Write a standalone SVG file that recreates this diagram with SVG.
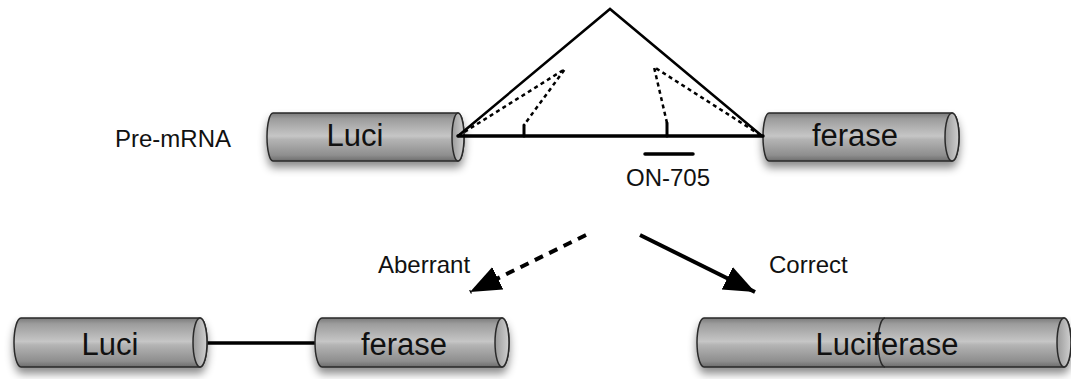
<svg xmlns="http://www.w3.org/2000/svg" width="1071" height="379" viewBox="0 0 1071 379">
  <defs>
    <linearGradient id="tube" x1="0" y1="0" x2="0" y2="1">
      <stop offset="0" stop-color="#7a7a7a"/>
      <stop offset="0.12" stop-color="#9c9c9c"/>
      <stop offset="0.48" stop-color="#c6c6c6"/>
      <stop offset="0.55" stop-color="#b4b4b4"/>
      <stop offset="0.88" stop-color="#8e8e8e"/>
      <stop offset="1" stop-color="#6c6c6c"/>
    </linearGradient>
    <linearGradient id="cap" x1="0" y1="0" x2="1" y2="0">
      <stop offset="0" stop-color="#9a9a9a"/>
      <stop offset="1" stop-color="#d0d0d0"/>
    </linearGradient>
    <filter id="shadow" x="-10%" y="-30%" width="120%" height="170%">
      <feDropShadow dx="0" dy="6" stdDeviation="4.5" flood-color="#000" flood-opacity="0.45"/>
    </filter>
    <marker id="head" markerUnits="userSpaceOnUse" markerWidth="34" markerHeight="28" refX="31" refY="12.5" orient="auto">
      <path d="M0,0 L31,12.5 L0,25 Z" fill="#000"/>
    </marker>
  </defs>
  <style>
    .body { fill: url(#tube); stroke: #2a2a2a; stroke-width: 1.5; }
    .cap { fill: url(#cap); stroke: #2a2a2a; stroke-width: 1.5; }
    .exon { font-family: "Liberation Sans", Arial, sans-serif; font-size: 31px; fill: #111; text-anchor: middle; }
    .lbl { font-family: "Liberation Sans", Arial, sans-serif; font-size: 24px; fill: #111; }
    .solid { stroke: #000; fill: none; stroke-linecap: round; }
    .dot { stroke: #000; fill: none; stroke-width: 2.5; stroke-dasharray: 4 3.5; }
  </style>

  <text class="lbl" x="115" y="147">Pre-mRNA</text>

  <!-- pre-mRNA exon 1 -->
  <g id="exon-luci-top">
    <g filter="url(#shadow)">
      <path class="body" d="M273,113 L458,113 A6,24 0 0 1 458,161 L273,161 A6,24 0 0 1 273,113 Z"/>
    </g>
    <ellipse class="cap" cx="458" cy="137" rx="6" ry="24"/>
    <text class="exon" x="355" y="146">Luci</text>
  </g>

  <!-- pre-mRNA exon 2 -->
  <g id="exon-ferase-top">
    <g filter="url(#shadow)">
      <path class="body" d="M769,113 L952,113 A7,24 0 0 1 952,161 L769,161 A6,24 0 0 1 769,113 Z"/>
    </g>
    <ellipse class="cap" cx="952" cy="137" rx="7" ry="24"/>
    <text class="exon" x="855" y="146">ferase</text>
  </g>

  <!-- intron with splice sites -->
  <g id="intron">
    <line class="solid" x1="458" y1="136" x2="763" y2="136" stroke-width="3.5"/>
    <line class="solid" x1="524" y1="125" x2="524" y2="136" stroke-width="3"/>
    <line class="solid" x1="667" y1="123" x2="667" y2="136" stroke-width="3"/>
  </g>

  <!-- ON-705 oligo -->
  <g id="on705">
    <line x1="645" y1="154" x2="693" y2="154" stroke="#000" stroke-width="3.5" stroke-linecap="round"/>
    <text class="lbl" x="668" y="186" text-anchor="middle">ON-705</text>
  </g>

  <g id="connectors">
    <!-- correct splicing -->
    <polyline class="solid" points="458,136 610,9 762,136" stroke-width="2.5"/>
    <!-- cryptic splicing -->
    <polyline class="dot" points="458,136 565,69 524,125"/>
    <polyline class="dot" points="667,123 654,67 762,136"/>
    <!-- outcome arrows -->
    <line x1="586" y1="235" x2="470" y2="292" stroke="#000" stroke-width="4" stroke-dasharray="9 7" marker-end="url(#head)"/>
    <line x1="640" y1="235" x2="755" y2="292" stroke="#000" stroke-width="4" marker-end="url(#head)"/>
    <!-- retained intron in aberrant product -->
    <line x1="200" y1="343" x2="316" y2="343" stroke="#000" stroke-width="3.5"/>
  </g>

  <text class="lbl" x="378" y="273">Aberrant</text>
  <text class="lbl" x="769" y="273">Correct</text>

  <!-- aberrant product -->
  <g id="aberrant-luci">
    <g filter="url(#shadow)">
      <path class="body" d="M21,318 L200,318 A7,24.5 0 0 1 200,367 L21,367 A7,24.5 0 0 1 21,318 Z"/>
    </g>
    <ellipse class="cap" cx="200" cy="342.5" rx="7" ry="24.5"/>
    <text class="exon" x="110" y="355">Luci</text>
  </g>
  <g id="aberrant-ferase">
    <g filter="url(#shadow)">
      <path class="body" d="M322,318 L502,318 A7,24.5 0 0 1 502,367 L322,367 A7,24.5 0 0 1 322,318 Z"/>
    </g>
    <ellipse class="cap" cx="502" cy="342.5" rx="7" ry="24.5"/>
    <text class="exon" x="404" y="355">ferase</text>
  </g>

  <!-- correctly spliced product -->
  <g id="luciferase">
    <g filter="url(#shadow)">
      <path class="body" d="M704,318 L1064,318 A7,24.5 0 0 1 1064,367 L704,367 A7,24.5 0 0 1 704,318 Z"/>
    </g>
    <ellipse class="cap" cx="1064" cy="342.5" rx="7" ry="24.5"/>
    <path d="M885,318 A7,24.5 0 0 0 885,367" fill="none" stroke="#2a2a2a" stroke-width="1.5"/>
    <text class="exon" x="887" y="355">Luciferase</text>
  </g>
</svg>
